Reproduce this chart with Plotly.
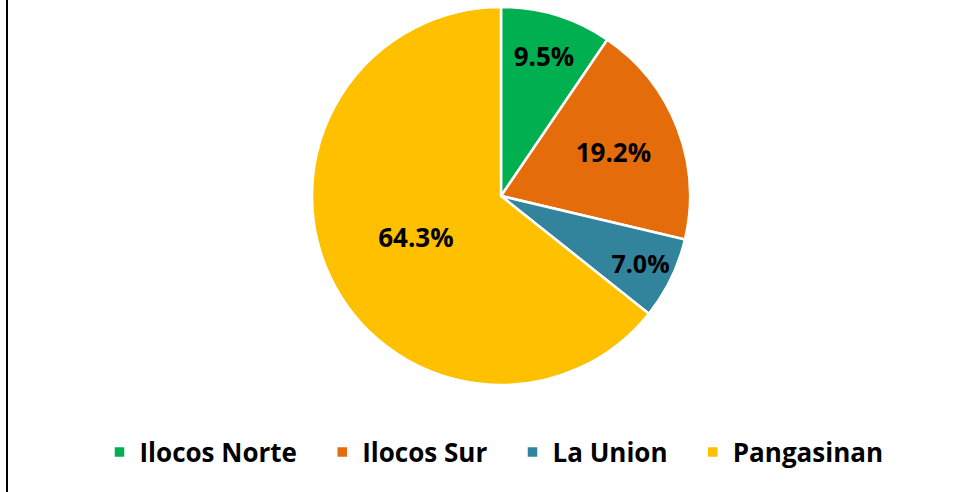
import plotly.graph_objects as go

provinces = ["Ilocos Norte", "Ilocos Sur", "La Union", "Pangasinan"]
shares = [9.5, 19.2, 7.0, 64.3]
colors = ["#00B050", "#E46C0A", "#31849B", "#FFC000"]

W, H = 959, 492
ml, mr, mt, mb = 8, 8, 7, 107
pw = W - ml - mr
ph = H - mt - mb
cx = (501 - ml) / pw

# trailing non-breaking spaces widen the gap between legend entries
legend_names = [p + "\u00a0" * 3 for p in provinces]

fig = go.Figure(go.Pie(
    labels=legend_names,
    values=shares,
    customdata=provinces,
    sort=False,
    direction="clockwise",
    rotation=0,
    marker=dict(colors=colors, line=dict(color="white", width=2.5)),
    texttemplate="%{value:.1f}%",
    textposition="inside",
    insidetextorientation="horizontal",
    textfont=dict(family="Open Sans", size=26, color="black", weight="bold"),
    domain=dict(x=[cx - 0.3, cx + 0.3], y=[0, 1]),
    hovertemplate="%{customdata}: %{value:.1f}%<extra></extra>",
))

fig.update_layout(
    width=W, height=H,
    margin=dict(l=ml, r=mr, t=mt, b=mb),
    paper_bgcolor="white",
    plot_bgcolor="white",
    showlegend=True,
    legend=dict(
        orientation="h",
        x=(504 - ml) / pw, xanchor="center",
        y=(ph + mt - 452) / ph, yanchor="middle",
        font=dict(family="Open Sans", size=26, color="black", weight="bold"),
        itemwidth=30,
        traceorder="normal",
    ),
    shapes=[dict(
        type="line", xref="paper", yref="paper",
        x0=(7 - ml) / pw, x1=(7 - ml) / pw,
        y0=(ph + mt - H) / ph, y1=(ph + mt) / ph,
        line=dict(color="black", width=2),
    )],
)

# the page body has a default 8px margin; drop it so the figure sits at 0,0
fig.write_html(
    "out.html",
    config={"displayModeBar": False},
    post_script="document.body.style.margin='0';",
)
